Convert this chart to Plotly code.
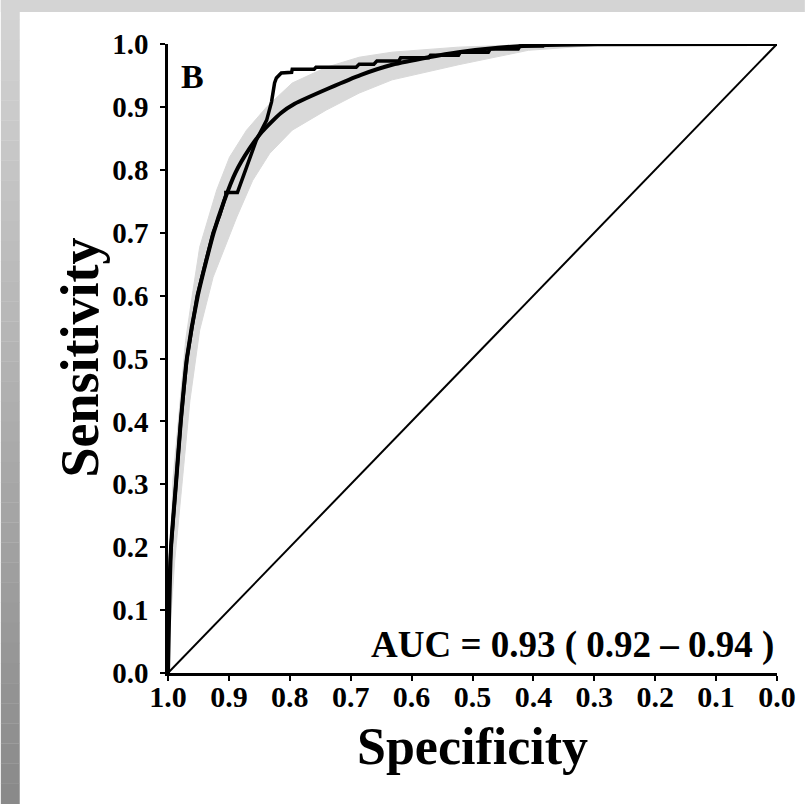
import plotly.graph_objects as go

# ---------------- data ----------------
# smoothed (binormal) ROC curve: specificity, sensitivity
smooth_spec = [1.000, 0.998, 0.995, 0.987, 0.979, 0.969, 0.951, 0.925, 0.908, 0.889,
               0.866, 0.846, 0.815, 0.792, 0.735, 0.683, 0.632, 0.572, 0.523, 0.458,
               0.392, 0.294, 0.000]
smooth_sens = [0.000, 0.100, 0.200, 0.300, 0.400, 0.500, 0.600, 0.700, 0.750, 0.796,
               0.834, 0.860, 0.890, 0.905, 0.930, 0.951, 0.967, 0.979, 0.987, 0.994,
               0.998, 0.9995, 1.000]

# empirical ROC curve
emp_spec = [1.000, 1.000, 0.995, 0.987, 0.979, 0.969, 0.952, 0.926, 0.915, 0.905,
            0.905, 0.886, 0.869, 0.855, 0.838, 0.830, 0.825, 0.822, 0.814, 0.797,
            0.796, 0.760, 0.757, 0.691, 0.686, 0.662, 0.657, 0.621, 0.618, 0.572,
            0.569, 0.523, 0.520, 0.474, 0.471, 0.425, 0.422, 0.384, 0.381, 0.000]
emp_sens = [0.000, 0.115, 0.200, 0.300, 0.400, 0.500, 0.600, 0.700, 0.728, 0.760,
            0.764, 0.764, 0.811, 0.847, 0.879, 0.908, 0.938, 0.946, 0.954, 0.955,
            0.960, 0.960, 0.963, 0.963, 0.968, 0.968, 0.973, 0.973, 0.978, 0.978,
            0.982, 0.982, 0.987, 0.987, 0.992, 0.992, 0.997, 0.997, 1.000, 1.000]

# confidence band: upper-left edge and lower-right edge
band_hi_spec = [1.000, 0.998, 0.992, 0.980, 0.971, 0.959, 0.948, 0.920, 0.899, 0.871,
                0.838, 0.796, 0.740, 0.686, 0.632, 0.523, 0.408, 0.294, 0.000]
band_hi_sens = [0.000, 0.115, 0.306, 0.433, 0.529, 0.608, 0.677, 0.768, 0.820, 0.863,
                0.900, 0.938, 0.963, 0.979, 0.987, 0.995, 0.999, 1.000, 1.000]
band_lo_spec = [0.000, 0.294, 0.408, 0.523, 0.577, 0.632, 0.686, 0.740, 0.796, 0.833,
                0.861, 0.887, 0.926, 0.948, 0.964, 0.977, 0.989, 0.997, 1.000]
band_lo_sens = [1.000, 0.998, 0.990, 0.967, 0.955, 0.943, 0.922, 0.895, 0.863, 0.826,
                0.783, 0.725, 0.629, 0.545, 0.433, 0.306, 0.178, 0.067, 0.000]

chance_spec = [1.0, 0.0]
chance_sens = [0.0, 1.0]

tick_vals = [1.0, 0.9, 0.8, 0.7, 0.6, 0.5, 0.4, 0.3, 0.2, 0.1, 0.0]
tick_text = ["1.0", "0.9", "0.8", "0.7", "0.6", "0.5", "0.4", "0.3", "0.2", "0.1", "0.0"]

panel_label = "B"
auc_text = "AUC = 0.93 ( 0.92 – 0.94 )"
x_title = "Specificity"
y_title = "Sensitivity"

# ---------------- layout geometry ----------------
W, H = 808, 804
L, R, T, B = 168, 780, 44, 673  # plot area in pixels


def px2x(px):
    return (px - L) / (R - L)


def py2y(py):
    return (B - py) / (B - T)


SERIF = "Liberation Serif, Times New Roman, serif"

fig = go.Figure()

# confidence band
fig.add_trace(go.Scatter(
    x=band_hi_spec + band_lo_spec, y=band_hi_sens + band_lo_sens,
    mode="lines", fill="toself", fillcolor="#d9d9d9",
    line=dict(color="#d9d9d9", width=1), hoverinfo="skip", showlegend=False,
    cliponaxis=False))

# chance diagonal
fig.add_trace(go.Scatter(
    x=chance_spec, y=chance_sens, mode="lines",
    line=dict(color="black", width=2), showlegend=False, cliponaxis=False))

# smooth curve
fig.add_trace(go.Scatter(
    x=smooth_spec, y=smooth_sens, mode="lines",
    line=dict(color="black", width=4, shape="spline", smoothing=0.6),
    showlegend=False, cliponaxis=False))

# empirical curve
fig.add_trace(go.Scatter(
    x=emp_spec, y=emp_sens, mode="lines",
    line=dict(color="black", width=3.5), showlegend=False, cliponaxis=False))

# ---------------- background decoration (gray frame) ----------------
shapes = []
n = 40
for i in range(n):
    y0 = H * i / n
    y1 = H * (i + 1) / n
    t = i / (n - 1)
    g = int(round(0xd4 + (0x8a - 0xd4) * t))
    col = f"rgb({g},{g},{g})"
    shapes.append(dict(type="rect", xref="paper", yref="paper", layer="below",
                       x0=px2x(0), x1=px2x(19), y0=py2y(y1), y1=py2y(y0) + 0.0005,
                       fillcolor=col, line=dict(width=0)))
shapes.append(dict(type="rect", xref="paper", yref="paper", layer="below",
                   x0=px2x(0), x1=px2x(W), y0=py2y(12), y1=py2y(0),
                   fillcolor="#d4d4d4", line=dict(width=0)))

annotations = [
    dict(text=panel_label, xref="paper", yref="paper", x=px2x(179), y=py2y(76),
         xanchor="left", yanchor="middle", showarrow=False,
         font=dict(family=SERIF, size=34, color="black", weight="bold")),
    dict(text=auc_text, xref="paper", yref="paper", x=px2x(779), y=py2y(645),
         xanchor="right", yanchor="middle", showarrow=False,
         font=dict(family=SERIF, size=37, color="black", weight="bold")),
    dict(text=x_title, xref="paper", yref="paper", x=0.5, y=py2y(746),
         xanchor="center", yanchor="middle", showarrow=False,
         font=dict(family=SERIF, size=52, color="black", weight="bold")),
    dict(text=y_title, xref="paper", yref="paper", x=px2x(80), y=py2y(357),
         xanchor="center", yanchor="middle", showarrow=False, textangle=-90,
         font=dict(family=SERIF, size=54, color="black", weight="bold")),
]

fig.update_layout(
    width=W, height=H,
    margin=dict(l=L, r=W - R, t=T, b=H - B, pad=0),
    paper_bgcolor="white", plot_bgcolor="white",
    shapes=shapes, annotations=annotations,
    showlegend=False,
    xaxis=dict(range=[1.0, 0.0], tickvals=tick_vals, ticktext=tick_text,
               showgrid=False, zeroline=False, showline=True, linecolor="black",
               linewidth=2.5, ticks="outside", ticklen=5, tickwidth=2, tickcolor="black",
               ticklabelstandoff=-10,
               tickfont=dict(family=SERIF, size=30, color="black", weight="bold"),
               fixedrange=True),
    yaxis=dict(range=[0.0, 1.0], tickvals=tick_vals, ticktext=tick_text,
               showgrid=False, zeroline=False, showline=True, linecolor="black",
               linewidth=2.5, ticks="outside", ticklen=5, tickwidth=2, tickcolor="black",
               ticklabelstandoff=6,
               tickfont=dict(family=SERIF, size=29, color="black", weight="bold"),
               fixedrange=True),
)

fig.write_html("out.html", config={"displayModeBar": False},
               post_script="document.body.style.margin='0px';")
